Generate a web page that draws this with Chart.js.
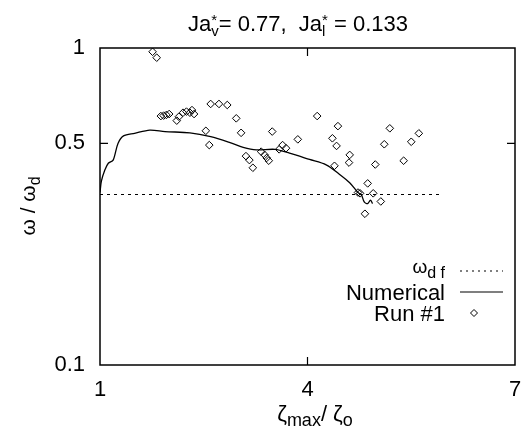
<!DOCTYPE html>
<html>
<head>
<meta charset="utf-8">
<script src="https://cdn.jsdelivr.net/npm/chart.js@4"></script>
<style>
  html, body { margin: 0; padding: 0; background: #fff; }
  #wrap { width: 521px; height: 440px; }
</style>
</head>
<body>
<div id="wrap"><canvas id="chart" width="521" height="440"></canvas></div>
<script>
// ticks
const xTickVals = [1, 4, 7];
const yTickVals = [0.1, 0.5, 1];

// omega_df level (dotted line)
const dfX = [1, 5.95];
const dfY = [0.345, 0.345];

// numerical solution
const numX = [1.00, 1.02, 1.07, 1.12, 1.19, 1.26, 1.34, 1.50, 1.72, 1.94, 2.30, 2.60, 2.88, 3.07, 3.26, 3.53, 3.74, 4.03, 4.27, 4.46, 4.61, 4.73, 4.78, 4.82, 4.87, 4.91, 4.94];
const numY = [0.350, 0.380, 0.412, 0.433, 0.443, 0.500, 0.528, 0.538, 0.551, 0.545, 0.540, 0.525, 0.503, 0.486, 0.477, 0.479, 0.466, 0.445, 0.428, 0.400, 0.376, 0.350, 0.344, 0.327, 0.323, 0.331, 0.323];

// run #1 measurements
const runX = [1.76, 1.82, 1.88, 1.92, 1.96, 2.00, 2.11, 2.14, 2.20, 2.25, 2.30, 2.33, 2.36, 2.60, 2.72, 2.84, 2.97, 2.53, 2.58, 3.04,
              3.11, 3.16, 3.21, 3.33, 3.38, 3.41, 3.44, 3.49, 3.59, 3.64, 3.69, 3.86, 4.14, 4.36, 4.42, 4.39, 4.44, 4.60, 4.61, 4.73,
              4.76, 4.87, 4.95, 4.98, 5.06, 4.83, 5.11, 5.19, 5.39, 5.50, 5.61];
const runY = [0.973, 0.932, 0.610, 0.612, 0.615, 0.619, 0.590, 0.607, 0.625, 0.630, 0.625, 0.637, 0.619, 0.666, 0.666, 0.661, 0.600, 0.548, 0.494, 0.540,
              0.456, 0.443, 0.419, 0.471, 0.460, 0.450, 0.441, 0.545, 0.479, 0.494, 0.483, 0.515, 0.610, 0.519, 0.491, 0.425, 0.567, 0.435, 0.460, 0.350,
              0.348, 0.374, 0.348, 0.429, 0.328, 0.300, 0.497, 0.558, 0.441, 0.506, 0.538];

const FONT = "'Liberation Sans', Arial, sans-serif";
const toPts = (xs, ys) => xs.map((x, i) => ({ x: x, y: ys[i] }));

// draw text made of pieces: {t, size, dy} ; stacked pieces share x
function richWidth(ctx, parts) {
  let w = 0;
  parts.forEach(p => {
    if (p.stack) {
      w += Math.max(...p.stack.map(s => { ctx.font = s.size + 'px ' + FONT; return ctx.measureText(s.t).width; }));
    } else {
      ctx.font = p.size + 'px ' + FONT;
      w += ctx.measureText(p.t).width;
    }
  });
  return w;
}
function richText(ctx, parts, x, y, align) {
  const w = richWidth(ctx, parts);
  let cx = align === 'center' ? x - w / 2 : (align === 'right' ? x - w : x);
  ctx.textAlign = 'left';
  ctx.textBaseline = 'alphabetic';
  ctx.fillStyle = '#000';
  parts.forEach(p => {
    if (p.stack) {
      let mw = 0;
      p.stack.forEach(s => {
        ctx.font = s.size + 'px ' + FONT;
        ctx.fillText(s.t, cx, y + s.dy);
        mw = Math.max(mw, ctx.measureText(s.t).width);
      });
      cx += mw;
    } else {
      ctx.font = p.size + 'px ' + FONT;
      ctx.fillText(p.t, cx, y + (p.dy || 0));
      cx += ctx.measureText(p.t).width;
    }
  });
}

const decor = {
  id: 'decor',
  afterDraw(chart) {
    const ctx = chart.ctx;
    const a = chart.chartArea;
    const xs = chart.scales.x, ys = chart.scales.y;
    ctx.save();
    // frame
    ctx.strokeStyle = '#000';
    ctx.lineWidth = 1.5;
    ctx.strokeRect(a.left, a.top, a.right - a.left, a.bottom - a.top);
    // inward tick marks
    ctx.lineWidth = 1.2;
    ctx.beginPath();
    const py = ys.getPixelForValue(0.5);
    ctx.moveTo(a.left, py); ctx.lineTo(a.left + 8, py);
    ctx.moveTo(a.right, py); ctx.lineTo(a.right - 8, py);
    const px = xs.getPixelForValue(4);
    ctx.moveTo(px, a.top); ctx.lineTo(px, a.top + 8);
    ctx.moveTo(px, a.bottom); ctx.lineTo(px, a.bottom - 8);
    ctx.stroke();

    // title
    richText(ctx, [
      { t: 'Ja', size: 22 },
      { stack: [{ t: '*', size: 15, dy: -6 }, { t: 'v', size: 15, dy: 5 }] },
      { t: '= 0.77,  Ja', size: 22 },
      { stack: [{ t: '*', size: 15, dy: -6 }, { t: 'l', size: 15, dy: 5 }] },
      { t: ' = 0.133', size: 22 }
    ], 298, 31, 'center');

    // x axis title
    richText(ctx, [
      { t: 'ζ', size: 22 },
      { t: 'max', size: 18, dy: 5 },
      { t: '/ ζ', size: 22 },
      { t: 'o', size: 18, dy: 5 }
    ], 315, 421, 'center');

    // y axis title
    ctx.save();
    ctx.translate(35, 206);
    ctx.rotate(-Math.PI / 2);
    richText(ctx, [
      { t: 'ω / ω', size: 21 },
      { t: 'd', size: 16, dy: 5 }
    ], 0, 0, 'center');
    ctx.restore();

    // legend
    const tx = 445, lx0 = 460, lx1 = 503;
    const rows = [271, 292, 313];
    richText(ctx, [{ t: 'ω', size: 19 }, { t: 'd f', size: 16, dy: 5 }], tx, rows[0] + 2, 'right');
    richText(ctx, [{ t: 'Numerical', size: 22 }], tx, rows[1] + 8, 'right');
    richText(ctx, [{ t: 'Run #1', size: 22 }], tx, rows[2] + 8, 'right');
    ctx.strokeStyle = '#000';
    ctx.lineWidth = 1.2;
    ctx.setLineDash([2, 4]);
    ctx.beginPath(); ctx.moveTo(lx0, rows[0]); ctx.lineTo(lx1, rows[0]); ctx.stroke();
    ctx.setLineDash([]);
    ctx.beginPath(); ctx.moveTo(lx0, rows[1]); ctx.lineTo(lx1, rows[1]); ctx.stroke();
    const cx = 474, cy = rows[2], r = 3.5;
    ctx.lineWidth = 1;
    ctx.beginPath();
    ctx.moveTo(cx, cy - r); ctx.lineTo(cx + r, cy); ctx.lineTo(cx, cy + r); ctx.lineTo(cx - r, cy); ctx.closePath();
    ctx.stroke();
    ctx.restore();
  }
};

new Chart(document.getElementById('chart').getContext('2d'), {
  type: 'scatter',
  data: {
    datasets: [
      {
        label: 'ωdf',
        type: 'line',
        data: toPts(dfX, dfY),
        borderColor: '#000',
        borderWidth: 1.2,
        borderDash: [3, 4],
        pointRadius: 0,
        fill: false
      },
      {
        label: 'Numerical',
        type: 'line',
        data: toPts(numX, numY),
        borderColor: '#000',
        borderWidth: 1.3,
        pointRadius: 0,
        tension: 0.3,
        fill: false
      },
      {
        label: 'Run #1',
        data: toPts(runX, runY),
        pointStyle: 'rectRot',
        pointRadius: 3.8,
        borderColor: '#000',
        borderWidth: 1,
        backgroundColor: 'rgba(255,255,255,0)'
      }
    ]
  },
  options: {
    responsive: false,
    animation: false,
    layout: { padding: { top: 48, right: 6, left: 0, bottom: 0 } },
    plugins: {
      legend: { display: false },
      tooltip: { enabled: false }
    },
    scales: {
      x: {
        type: 'linear',
        min: 1,
        max: 7,
        afterBuildTicks: s => { s.ticks = xTickVals.map(v => ({ value: v })); },
        afterFit: s => { s.height = 75; s.paddingLeft = 0; s.paddingRight = 0; },
        ticks: { color: '#000', font: { family: FONT, size: 22 }, padding: 12, maxRotation: 0 },
        grid: { display: false, drawTicks: false },
        border: { display: false }
      },
      y: {
        type: 'logarithmic',
        min: 0.1,
        max: 1,
        afterBuildTicks: s => { s.ticks = yTickVals.map(v => ({ value: v })); },
        afterFit: s => { s.width = 100; s.paddingTop = 0; s.paddingBottom = 0; },
        ticks: { color: '#000', font: { family: FONT, size: 22 }, padding: 15, callback: v => String(v) },
        grid: { display: false, drawTicks: false },
        border: { display: false }
      }
    }
  },
  plugins: [decor]
});
</script>
</body>
</html>
